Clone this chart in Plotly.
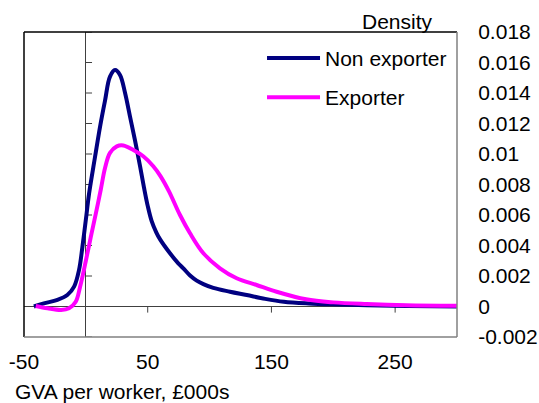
import plotly.graph_objects as go

# ---- data ----
series_names = ["Non exporter", "Exporter"]

x_non = [-42, -34, -23, -15, -9.5, -5.5, -2.8, 0, 2.6, 7.4, 11.5, 15.5, 19.5, 23.6,
         27.6, 31.7, 35.7, 39.7, 43.8, 47, 50, 53.2, 57, 60, 68, 74.7, 78.8, 84,
         89.6, 95, 103, 116.5, 130, 145, 160, 180, 205, 227, 260, 300]
y_non = [0.0, 0.0002, 0.00043, 0.00075, 0.0013, 0.0024, 0.0039, 0.0057, 0.0074,
         0.0098, 0.0118, 0.0135, 0.01507, 0.0155, 0.01518, 0.0140, 0.01245, 0.0109,
         0.0092, 0.0078, 0.0066, 0.0056, 0.00485, 0.0044, 0.00349, 0.00283, 0.0025,
         0.00205, 0.0017, 0.00147, 0.00122, 0.00097, 0.00075, 0.0005, 0.00031,
         0.0002, 0.00013, 0.00008, 0.00003, 0.0]

x_exp = [-40.5, -31, -20, -13.6, -8.2, -4.7, 0, 4, 8, 12, 15.5, 19.5, 25, 30.3,
         38.4, 46.4, 54.5, 60.3, 67.2, 76.1, 84.2, 95, 108.4, 121.9, 138, 154.2,
         178, 200, 227, 259, 300]
y_exp = [0.00003, -0.00012, -0.00023, -0.00012, 0.00031, 0.00128, 0.003, 0.00456,
         0.00607, 0.00764, 0.00908, 0.01007, 0.0105, 0.01056, 0.01026, 0.00985,
         0.0092, 0.00855, 0.00755, 0.006, 0.0048, 0.00349, 0.0025, 0.00185,
         0.00141, 0.00097, 0.00047, 0.00027, 0.00016, 0.00008, 0.00005]

x_tick_vals = [-50, 50, 150, 250]
x_tick_labels = ["-50", "50", "150", "250"]
y_tick_vals = [-0.002, 0, 0.002, 0.004, 0.006, 0.008, 0.010, 0.012, 0.014, 0.016, 0.018]
y_tick_labels = ["-0.002", "0", "0.002", "0.004", "0.006", "0.008", "0.01",
                 "0.012", "0.014", "0.016", "0.018"]
x_title = "GVA per worker, £000s"
y_title = "Density"

FONT = "Liberation Sans, Arial, sans-serif"
FS = 21

fig = go.Figure()
fig.add_trace(go.Scatter(x=x_non, y=y_non, mode="lines", name=series_names[0],
                         legendgroup="a",
                         line=dict(color="#000080", width=4, shape="spline", smoothing=1.0)))
fig.add_trace(go.Scatter(x=x_exp, y=y_exp, mode="lines", name=series_names[1],
                         legendgroup="b",
                         line=dict(color="#FF00FF", width=4, shape="spline", smoothing=1.0)))

shapes = []
# tick marks on the x=0 vertical axis line (pointing right)
for v in y_tick_vals:
    shapes.append(dict(type="line", xref="x", yref="y", x0=0, x1=5, y0=v, y1=v,
                       line=dict(color="#404040", width=1), layer="below"))
# tick marks on the y=0 horizontal axis line (pointing down)
for v in x_tick_vals[1:]:
    shapes.append(dict(type="line", xref="x", yref="y", x0=v, x1=v, y0=0, y1=-0.0004,
                       line=dict(color="#404040", width=1), layer="below"))
# plot-area frame
shapes += [
    dict(type="line", xref="paper", yref="paper", x0=0, x1=1, y0=1, y1=1,
         line=dict(color="black", width=1.5)),
    dict(type="line", xref="paper", yref="paper", x0=0, x1=0, y0=0, y1=1,
         line=dict(color="black", width=1.5)),
    dict(type="line", xref="paper", yref="paper", x0=1, x1=1, y0=0, y1=1,
         line=dict(color="#808080", width=1.5)),
    dict(type="line", xref="paper", yref="paper", x0=0, x1=1, y0=0, y1=0,
         line=dict(color="#808080", width=1.5)),
]

fig.update_layout(
    width=539, height=403,
    margin=dict(l=24, r=82, t=32, b=66),
    paper_bgcolor="white", plot_bgcolor="white",
    font=dict(family=FONT, size=FS, color="black"),
    showlegend=True,
    legend=dict(x=0.5497, y=0.981, xanchor="left", yanchor="top",
                bgcolor="rgba(0,0,0,0)", font=dict(size=FS), itemwidth=53,
                tracegroupgap=9),
    xaxis=dict(range=[-50, 300], tickvals=x_tick_vals, ticktext=x_tick_labels,
               showgrid=False, showline=False, zeroline=True, zerolinecolor="#404040",
               zerolinewidth=1, ticks="outside", ticklen=6, automargin=False,
               tickcolor="rgba(0,0,0,0)", tickfont=dict(size=FS)),
    yaxis=dict(range=[-0.002, 0.018], tickvals=y_tick_vals, ticktext=y_tick_labels,
               side="right", showgrid=False, showline=False, zeroline=True,
               zerolinecolor="#404040", zerolinewidth=1, ticks="outside", ticklen=16,
               automargin=False,
               tickcolor="rgba(0,0,0,0)", tickfont=dict(size=FS)),
    shapes=shapes,
    annotations=[
        dict(text=y_title, xref="paper", yref="paper", x=0.8637, y=1.0,
             xanchor="center", yanchor="bottom", yshift=-3, showarrow=False,
             font=dict(size=FS)),
        dict(text=x_title, xref="paper", yref="paper", x=-0.0254, y=-0.135,
             xanchor="left", yanchor="top", showarrow=False, font=dict(size=FS)),
    ],
)

fig.write_html("out.html", config={"displayModeBar": False},
               post_script="document.body.style.margin='0';")
